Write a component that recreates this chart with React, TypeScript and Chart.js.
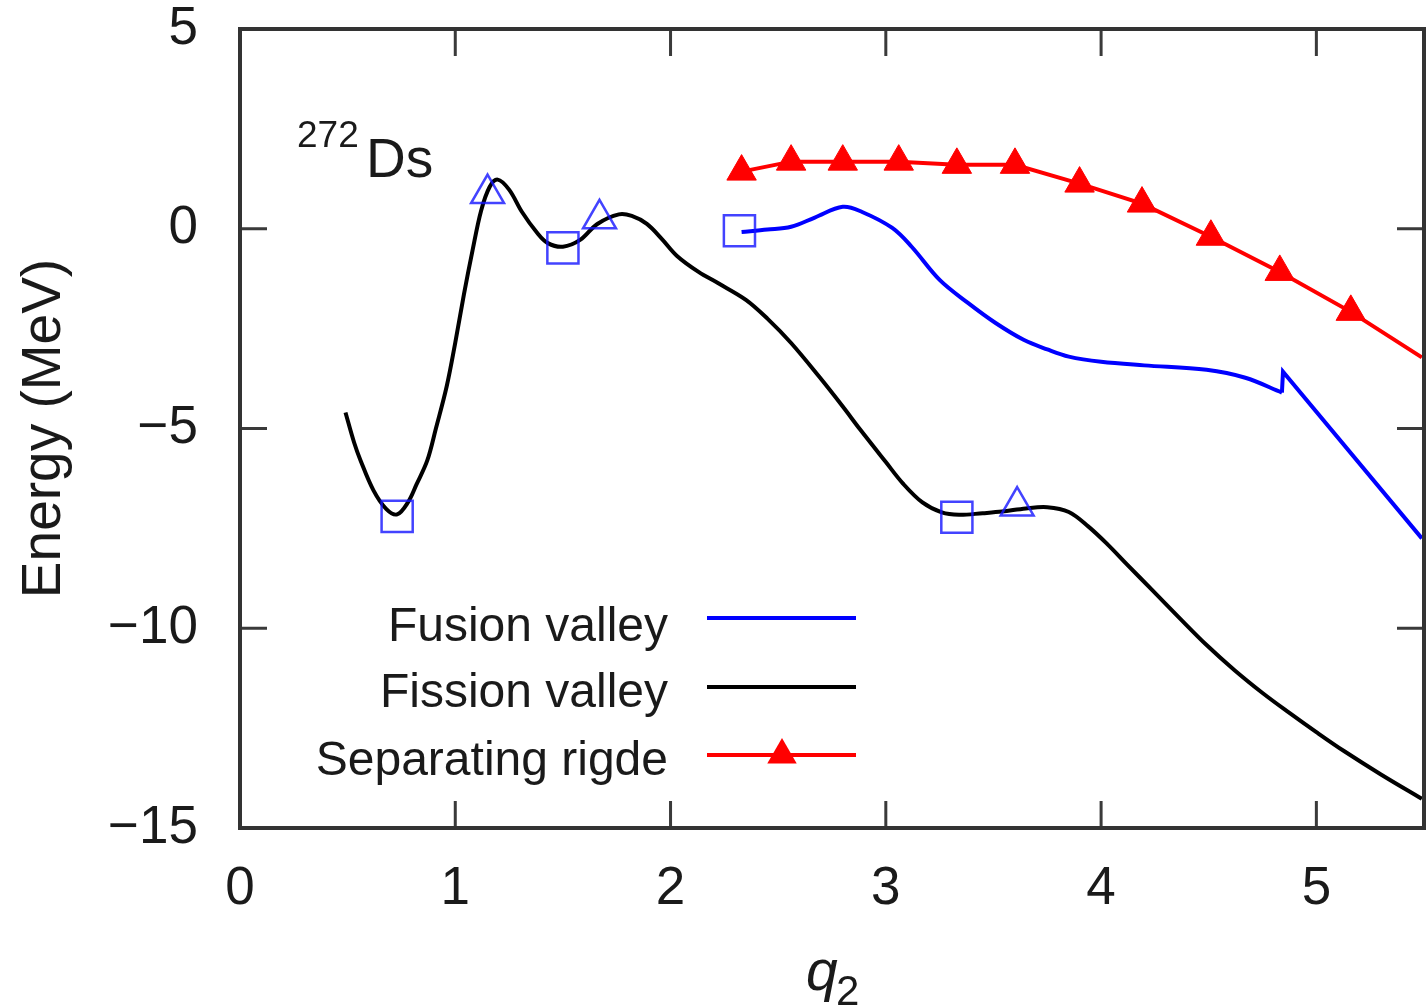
import React, { useEffect, useRef } from 'react';
import { Chart, registerables } from 'chart.js';

Chart.register(...registerables);

const FONT = '"Liberation Sans", Arial, Helvetica, sans-serif';
const TEXT = '#1a1a1a';

const xTicks = [0, 1, 2, 3, 4, 5];
const yTicks = [5, 0, -5, -10, -15];

// Fission valley (black)
const fissionQ = [0.49, 0.53, 0.56, 0.62, 0.68, 0.73, 0.78, 0.82, 0.87, 0.91, 0.96, 1.0, 1.04, 1.08, 1.12, 1.16, 1.197, 1.25, 1.31, 1.38, 1.43, 1.5, 1.58, 1.66, 1.76, 1.82, 1.89, 1.96, 2.03, 2.13, 2.22, 2.35, 2.45, 2.56, 2.69, 2.8, 2.88, 3.0, 3.08, 3.17, 3.26, 3.34, 3.45, 3.54, 3.65, 3.75, 3.85, 3.94, 4.03, 4.12, 4.24, 4.36, 4.49, 4.62, 4.75, 4.87, 5.0, 5.13, 5.3, 5.49];
const fissionE = [-4.6, -5.35, -5.8, -6.55, -7.02, -7.15, -6.85, -6.4, -5.8, -5.0, -3.95, -2.85, -1.65, -0.55, 0.45, 1.05, 1.23, 0.98, 0.42, -0.1, -0.36, -0.45, -0.28, 0.12, 0.36, 0.32, 0.12, -0.26, -0.68, -1.08, -1.36, -1.78, -2.25, -2.86, -3.7, -4.45, -5.02, -5.84, -6.38, -6.85, -7.1, -7.16, -7.12, -7.08, -7.0, -6.97, -7.09, -7.45, -7.9, -8.4, -9.06, -9.72, -10.42, -11.05, -11.62, -12.1, -12.6, -13.08, -13.66, -14.27];

// Fusion valley (blue)
const fusionQ = [2.33, 2.45, 2.56, 2.67, 2.8, 2.89, 3.03, 3.12, 3.25, 3.38, 3.51, 3.64, 3.75, 3.85, 4.0, 4.2, 4.49, 4.67, 4.84];
const fusionE = [-0.08, -0.02, 0.05, 0.28, 0.55, 0.42, 0.02, -0.45, -1.28, -1.85, -2.36, -2.78, -3.02, -3.2, -3.33, -3.42, -3.53, -3.73, -4.1];
const fusionTailQ = [4.84, 4.845, 5.49];
const fusionTailE = [-4.1, -3.58, -7.75];

// Separating ridge (red, filled triangles)
const ridgeQ = [2.33, 2.56, 2.8, 3.06, 3.33, 3.6, 3.9, 4.19, 4.51, 4.83, 5.16, 5.49];
const ridgeE = [1.43, 1.68, 1.68, 1.68, 1.6, 1.6, 1.13, 0.63, -0.2, -1.08, -2.08, -3.22];
const ridgeMarked = [true, true, true, true, true, true, true, true, true, true, true, false];

// Stationary points (blue hollow markers)
const statQ = [0.73, 1.15, 1.5, 1.67, 2.32, 3.33, 3.61];
const statE = [-7.2, 0.88, -0.48, 0.25, -0.05, -7.22, -6.94];
const statStyle = ['rect', 'triangle', 'rect', 'triangle', 'rect', 'rect', 'triangle'];

const legendLabels = ['Fusion valley', 'Fission valley', 'Separating rigde'];
const legendColors = ['#0000ff', '#000000', '#ff0000'];

const pts = (qs: number[], es: number[]) => qs.map((q, i) => ({ x: q, y: es[i] }));

const framePlugin = {
  id: 'frame',
  afterDatasetsDraw(chart: any) {
    const { ctx, chartArea: a, scales } = chart;
    const xs = scales.x;
    const ys = scales.y;
    ctx.save();
    ctx.strokeStyle = '#3a3a3a';
    ctx.lineWidth = 3;
    ctx.beginPath();
    const L = 27;
    for (const v of xTicks) {
      const px = xs.getPixelForValue(v);
      ctx.moveTo(px, a.bottom);
      ctx.lineTo(px, a.bottom - L);
      ctx.moveTo(px, a.top);
      ctx.lineTo(px, a.top + L);
    }
    for (const v of yTicks) {
      const py = ys.getPixelForValue(v);
      ctx.moveTo(a.left, py);
      ctx.lineTo(a.left + L, py);
      ctx.moveTo(a.right, py);
      ctx.lineTo(a.right - L, py);
    }
    ctx.stroke();
    ctx.lineWidth = 4;
    ctx.strokeStyle = '#333';
    ctx.strokeRect(a.left, a.top, a.right - a.left, a.bottom - a.top);
    ctx.restore();
  },
  afterDraw(chart: any) {
    const { ctx } = chart;
    ctx.save();
    // Legend
    const textRight = 668;
    const lineX0 = 707;
    const lineX1 = 856;
    const baselines = [641, 707, 775];
    const lineYs = [618, 687, 755];
    ctx.font = `48px ${FONT}`;
    ctx.textAlign = 'right';
    ctx.textBaseline = 'alphabetic';
    legendLabels.forEach((lab, i) => {
      ctx.fillStyle = TEXT;
      ctx.fillText(lab, textRight, baselines[i]);
      ctx.strokeStyle = legendColors[i];
      ctx.lineWidth = 4;
      ctx.beginPath();
      ctx.moveTo(lineX0, lineYs[i]);
      ctx.lineTo(lineX1, lineYs[i]);
      ctx.stroke();
    });
    // legend triangle
    const cx = (lineX0 + lineX1) / 2 + 0.5;
    const cy = lineYs[2];
    const r = 17;
    ctx.fillStyle = '#ff0000';
    ctx.beginPath();
    for (let k = 0; k < 3; k++) {
      const ang = (k * 2 * Math.PI) / 3;
      const px = cx + Math.sin(ang) * r;
      const py = cy - Math.cos(ang) * r;
      if (k === 0) ctx.moveTo(px, py);
      else ctx.lineTo(px, py);
    }
    ctx.closePath();
    ctx.fill();

    // Nucleus label 272Ds
    ctx.textAlign = 'left';
    ctx.fillStyle = TEXT;
    ctx.font = `37px ${FONT}`;
    ctx.fillText('272', 297, 147);
    ctx.font = `55px ${FONT}`;
    ctx.fillText('Ds', 366, 177);

    // x-axis title q2
    ctx.font = `italic 57px ${FONT}`;
    ctx.fillText('q', 806, 990);
    ctx.font = `42px ${FONT}`;
    ctx.fillText('2', 836, 1005);
    ctx.restore();
  },
};

export default function App() {
  const ref = useRef<HTMLCanvasElement | null>(null);
  useEffect(() => {
    if (!ref.current) return;
    const chart = new Chart(ref.current, {
      type: 'line',
      data: {
        datasets: [
          {
            label: 'Stationary points',
            data: pts(statQ, statE),
            showLine: false,
            pointStyle: statStyle as any,
            pointRadius: statStyle.map((s) => (s === 'rect' ? 22 : 19)),
            pointBorderColor: 'rgba(20,20,255,0.8)',
            pointBackgroundColor: 'rgba(0,0,0,0)',
            pointBorderWidth: 2.5,
            borderColor: 'rgba(20,20,255,0.8)',
          } as any,
          {
            label: 'Separating rigde',
            data: pts(ridgeQ, ridgeE),
            borderColor: '#ff0000',
            backgroundColor: '#ff0000',
            borderWidth: 4,
            tension: 0,
            pointStyle: 'triangle',
            pointRadius: ridgeMarked.map((m) => (m ? 17 : 0)),
            pointBackgroundColor: '#ff0000',
            pointBorderColor: '#ff0000',
            pointBorderWidth: 1,
          },
          {
            label: 'Fusion valley',
            data: pts(fusionQ, fusionE),
            borderColor: '#0000ff',
            borderWidth: 4,
            pointRadius: 0,
            tension: 0.35,
          },
          {
            label: 'Fusion valley tail',
            data: pts(fusionTailQ, fusionTailE),
            borderColor: '#0000ff',
            borderWidth: 4,
            pointRadius: 0,
            tension: 0,
          },
          {
            label: 'Fission valley',
            data: pts(fissionQ, fissionE),
            borderColor: '#000000',
            borderWidth: 4,
            pointRadius: 0,
            tension: 0.35,
          },
        ],
      },
      options: {
        responsive: false,
        animation: false,
        devicePixelRatio: 1,
        parsing: false as any,
        layout: { autoPadding: false, padding: { top: 29, right: 3, left: 0, bottom: 0 } },
        plugins: {
          legend: { display: false },
          tooltip: { enabled: false },
        },
        scales: {
          x: {
            type: 'linear',
            min: 0,
            max: 5.5,
            grid: { display: false, drawTicks: false },
            border: { display: false },
            afterBuildTicks: (s: any) => {
              s.ticks = xTicks.map((v) => ({ value: v }));
            },
            afterFit: (s: any) => {
              s.height = 180;
              s.paddingLeft = 0;
              s.paddingRight = 0;
              s.paddingTop = 0;
              s.paddingBottom = 0;
            },
            ticks: {
              font: { family: FONT, size: 53 },
              color: TEXT,
              padding: 30,
              maxRotation: 0,
              autoSkip: false,
            },
          },
          y: {
            type: 'linear',
            min: -15,
            max: 5,
            grid: { display: false, drawTicks: false },
            border: { display: false },
            afterBuildTicks: (s: any) => {
              s.ticks = yTicks.map((v) => ({ value: v }));
            },
            afterFit: (s: any) => {
              s.width = 240;
              s.paddingLeft = 0;
              s.paddingRight = 0;
              s.paddingTop = 0;
              s.paddingBottom = 0;
            },
            ticks: {
              font: { family: FONT, size: 53 },
              color: TEXT,
              padding: 42,
              autoSkip: false,
              callback: (v: any) => (Number(v) < 0 ? '\u2212' + Math.abs(Number(v)) : String(v)),
            },
            title: {
              display: true,
              text: 'Energy (MeV)',
              font: { family: FONT, size: 55 },
              color: TEXT,
              padding: { top: 12, bottom: 0 },
            },
          },
        },
      },
      plugins: [framePlugin],
    } as any);
    return () => chart.destroy();
  }, []);
  return (
    <div style={{ position: 'absolute', left: 0, top: 0, width: 1427, height: 1008, background: '#fff' }}>
      <canvas ref={ref} width={1427} height={1008} style={{ display: 'block' }} />
    </div>
  );
}
